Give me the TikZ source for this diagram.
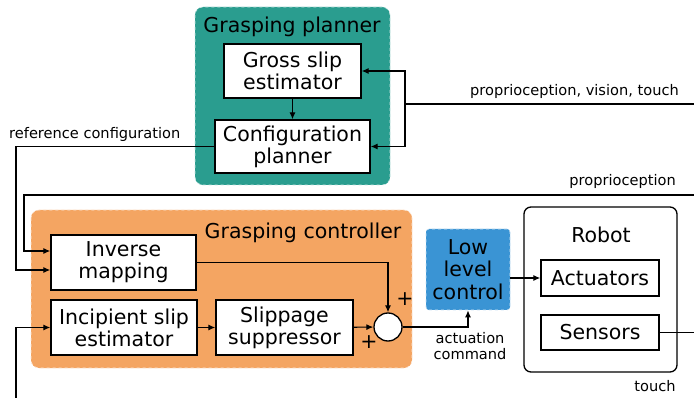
\documentclass[tikz,border=0pt]{standalone}
\usepackage{fontspec}
\setmainfont{DejaVu Sans}
\usetikzlibrary{arrows.meta}
\definecolor{plannerteal}{HTML}{2A9D8F}
\definecolor{ctrlorange}{HTML}{F4A562}
\definecolor{lowblue}{HTML}{3A94D4}

\begin{document}
\begin{tikzpicture}[x=1pt,y=-1pt,
  block/.style={draw,line width=1.3pt,fill=white,align=center,inner sep=0pt,
    font=\fontsize{20.5}{22}\selectfont},
  region/.style={rounded corners=8pt,dashed,draw=white!75!#1,fill=#1,line width=0.6pt},
  title/.style={font=\fontsize{20.5}{22}\selectfont},
  lbl/.style={font=\fontsize{14.6}{16.5}\selectfont,inner sep=0pt},
  arr/.style={-{Latex[length=7pt,width=6pt]},line width=1.2pt},
  wire/.style={line width=1.2pt}]
\useasboundingbox (0,0) rectangle (694,398);

% planner
\filldraw[region=plannerteal] (195,7) rectangle (390,185);
\node[title] (plantitle) at (292,27) {Grasping planner};
\node[block,minimum width=137pt,minimum height=54pt] (gross) at (292.5,71) {Gross slip\\estimator};
\node[block,minimum width=155pt,minimum height=53pt] (config) at (292.5,146.5) {Configuration\\planner};

% controller
\filldraw[region=ctrlorange] (31,210) rectangle (412,368);
\node[title] (ctrltitle) at (303,233) {Grasping controller};
\node[block,minimum width=145pt,minimum height=55pt] (inverse) at (123.5,262.5) {Inverse\\mapping};
\node[block,minimum width=146pt,minimum height=55pt] (incipient) at (124,327.5) {Incipient slip\\estimator};
\node[block,minimum width=137pt,minimum height=55pt] (slippage) at (284.5,327.5) {Slippage\\suppressor};
\node[circle,draw,line width=1.3pt,fill=white,minimum size=28pt,inner sep=0pt] (sum) at (388,327) {};
\node[title,inner sep=0pt] (plustop) at (405,299) {+};
\node[title,inner sep=0pt] (plusleft) at (369,342) {+};

% low level
\node[region=lowblue,rounded corners=3pt,minimum width=84pt,minimum height=81pt,align=center,
  font=\fontsize{20.5}{22.5}\selectfont,inner sep=0pt] (low) at (468,269.5) {Low\\level\\control};

% robot
\node[draw,line width=1.3pt,rounded corners=7pt,minimum width=153pt,minimum height=165pt] (robot) at (600.5,289.5) {};
\node[title] (robottitle) at (601,235) {Robot};
\node[block,minimum width=118pt,minimum height=36pt] (actuators) at (600,278) {Actuators};
\node[block,minimum width=118pt,minimum height=35pt] (sensors) at (600,332.5) {Sensors};

% free ends
\coordinate (pvtin) at (694,104);
\coordinate (fb) at (405,104);
\coordinate (propin) at (694,195);
\coordinate (propturn) at (24,251);
\coordinate (refturn) at (16,270);
\coordinate (touchin) at (16,398);
\coordinate (touchout) at (694,332.5);

% connectors
\draw[arr] (gross) -- (config);
\draw[wire] (pvtin) -- (fb);
\draw[arr] (fb) |- (gross.east);
\draw[arr] (fb) |- (config.east);
\draw[arr] (config.west) -| (refturn) -- (refturn -| inverse.west);
\draw[arr] (propin) -| (propturn) -- (propturn -| inverse.west);
\draw[arr] (touchin) |- (incipient.west);
\draw[arr] (inverse.east) -| (sum.north);
\draw[arr] (incipient) -- (slippage);
\draw[arr] (slippage) -- (sum);
\draw[arr] (sum.east) -| (low.south);
\draw[arr] (low.east |- actuators.west) -- (actuators.west);
\draw[wire] (sensors) -- (touchout);

% labels
\node[lbl,anchor=east] (pvtlbl) at (679,91) {proprioception, vision, touch};
\node[lbl,anchor=west] (reflbl) at (9,134) {reference configuration};
\node[lbl,anchor=east] (proplbl) at (676,181) {proprioception};
\node[lbl,align=center] (actlbl) at (470,346) {actuation\\command};
\node[lbl] (touchlbl) at (655,386) {touch};
\end{tikzpicture}
\end{document}
